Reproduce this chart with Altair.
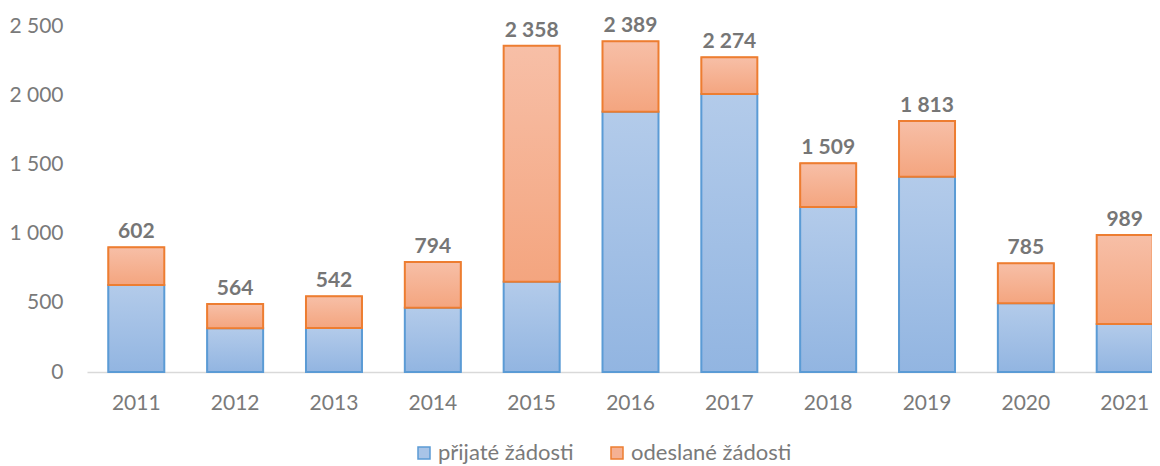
import altair as alt
import pandas as pd

years = ["2011", "2012", "2013", "2014", "2015", "2016", "2017", "2018", "2019", "2020", "2021"]
prijate = [629, 316, 318, 465, 652, 1881, 2009, 1192, 1411, 496, 347]
odeslane = [272, 175, 229, 329, 1706, 508, 265, 317, 402, 289, 642]
labels = [602, 564, 542, 794, 2358, 2389, 2274, 1509, 1813, 785, 989]
series = ["přijaté žádosti", "odeslané žádosti"]
y_ticks = [0, 500, 1000, 1500, 2000, 2500]

rows = []
for yr, p, o, lab in zip(years, prijate, odeslane, labels):
    rows.append(dict(year=yr, series=series[0], start=0, end=p, label=lab))
    rows.append(dict(year=yr, series=series[1], start=p, end=p + o, label=lab))
df = pd.DataFrame(rows)

FONT = "Lato"
AX_COL = "#7a7a7a"

x_enc = alt.X(
    "year:N",
    sort=years,
    scale=alt.Scale(range=[0, 1087], paddingInner=0.4335, paddingOuter=0.2155),
    axis=alt.Axis(title=None, labelAngle=0, labelFontSize=21, labelFont=FONT,
                  labelColor=AX_COL, ticks=False, domainColor="#d9d9d9",
                  domainWidth=1.5, labelPadding=20),
)
y_enc = alt.Y(
    "start:Q",
    scale=alt.Scale(domain=[0, 2500], nice=False),
    axis=alt.Axis(title=None, values=y_ticks, grid=False, domain=False, ticks=False,
                  labelFontSize=21, labelFont=FONT, labelColor=AX_COL, labelPadding=24,
                  labelExpr="replace(format(datum.value, ','), ',', ' ')"),
)

base = alt.Chart(df)

legend_layer = base.mark_bar().encode(
    x=x_enc, y=y_enc, y2="end:Q",
    fill=alt.Fill("series:N", scale=alt.Scale(domain=series, range=["#a9c4e7", "#f5b193"]),
                  legend=alt.Legend(orient="none", legendX=326, legendY=416,
                                    direction="horizontal", title=None, symbolType="square",
                                    symbolSize=144, labelFontSize=22, labelFont=FONT,
                                    labelColor=AX_COL, columnPadding=32, labelOffset=3,
                                    labelLimit=400, symbolStrokeWidth=1.5)),
    stroke=alt.Stroke("series:N", scale=alt.Scale(domain=series, range=["#5b9bd5", "#ed7d31"])),
)

blue_grad = alt.LinearGradient(
    gradient="linear", x1=0, x2=0, y1=0, y2=1,
    stops=[alt.GradientStop(color="#b3cbea", offset=0), alt.GradientStop(color="#92b5e1", offset=1)],
)
orange_grad = alt.LinearGradient(
    gradient="linear", x1=0, x2=0, y1=0, y2=1,
    stops=[alt.GradientStop(color="#f7bfa7", offset=0), alt.GradientStop(color="#f4a57f", offset=1)],
)

blue = base.transform_filter(alt.datum.series == series[0]).mark_bar(
    fill=blue_grad, stroke="#5b9bd5", strokeWidth=2
).encode(x=x_enc, y=y_enc, y2="end:Q")

orange = base.transform_filter(alt.datum.series == series[1]).mark_bar(
    fill=orange_grad, stroke="#ed7d31", strokeWidth=2
).encode(x=x_enc, y=y_enc, y2="end:Q")

text = base.transform_filter(alt.datum.series == series[1]).transform_calculate(
    txt="replace(format(datum.label, ','), ',', ' ')"
).mark_text(font=FONT, fontSize=21, fontWeight="bold", color="#767676",
            baseline="alphabetic", dy=-9).encode(
    x=x_enc, y=alt.Y("end:Q"), text="txt:N"
)

chart = alt.layer(legend_layer, blue, orange, text).properties(
    width=1065, height=346,
    autosize=alt.AutoSizeParams(type="none"),
    padding={"left": 79, "top": 18, "right": 0, "bottom": 94},
).configure_view(stroke=None)

chart.save("out.html", embed_options={"renderer": "svg", "actions": False})
